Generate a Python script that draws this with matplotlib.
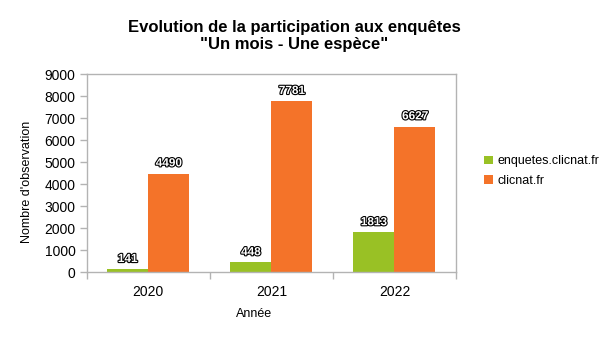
import matplotlib.pyplot as plt
import matplotlib.patheffects as pe
import numpy as np

plt.rcParams['font.family'] = ['Liberation Sans', 'DejaVu Sans']

years = ['2020', '2021', '2022']
enquetes = [141, 448, 1813]
clicnat = [4490, 7781, 6627]
series_names = ['enquetes.clicnat.fr', 'clicnat.fr']
colors = ['#99c125', '#f47329']
grey = '#b3b3b3'

fig = plt.figure(figsize=(6.05, 3.41), dpi=100)
ax = fig.add_axes([0.1433, 0.2015, 0.6104, 0.5806])

x = np.arange(len(years))
w = 1 / 3
b1 = ax.bar(x - w / 2, enquetes, w, color=colors[0], label=series_names[0])
b2 = ax.bar(x + w / 2, clicnat, w, color=colors[1], label=series_names[1])

# white labels with a thin black outline, as in the original
outline = [pe.withStroke(linewidth=1.6, foreground='black')]
for bars in (b1, b2):
    for r in bars:
        ax.annotate(str(int(r.get_height())), (r.get_x() + r.get_width() / 2, r.get_height()),
                    xytext=(0, 3), textcoords='offset points', ha='center', va='bottom',
                    fontsize=8.5, fontweight='bold', color='white', path_effects=outline)

ax.set_xlim(-0.5, 2.5)
ax.set_ylim(0, 9000)
ax.set_yticks(range(0, 9001, 1000))
ax.set_xticks(x)
ax.set_xticklabels(years)
ax.set_xticks([-0.5, 0.5, 1.5, 2.5], minor=True)
ax.tick_params(axis='x', which='major', length=0, pad=9, labelsize=10)
ax.tick_params(axis='x', which='minor', length=5, color=grey, width=1)
ax.tick_params(axis='y', length=5, color=grey, width=1, labelsize=10, pad=3)
for s in ax.spines.values():
    s.set_color(grey)
    s.set_linewidth(1)

fig.text(27 / 605, 1 - 182 / 341, "Nombre d'observation", rotation=90, ha='center', va='center', fontsize=9)
fig.text(254 / 605, 1 - 314 / 341, 'Année', ha='center', va='center', fontsize=9)
fig.text(294 / 605, 1 - 36 / 341, 'Evolution de la participation aux enquêtes\n"Un mois - Une espèce"',
         ha='center', va='center', fontsize=12, fontweight='bold', linespacing=1.15)

fig.legend(handles=[b1, b2], loc='center left', bbox_to_anchor=(484 / 605, 1 - 171 / 341),
           frameon=False, fontsize=9, handlelength=0.7, handleheight=0.7, handletextpad=0.4,
           labelspacing=0.6, borderaxespad=0, borderpad=0)

fig.savefig('out.png', dpi=100)
